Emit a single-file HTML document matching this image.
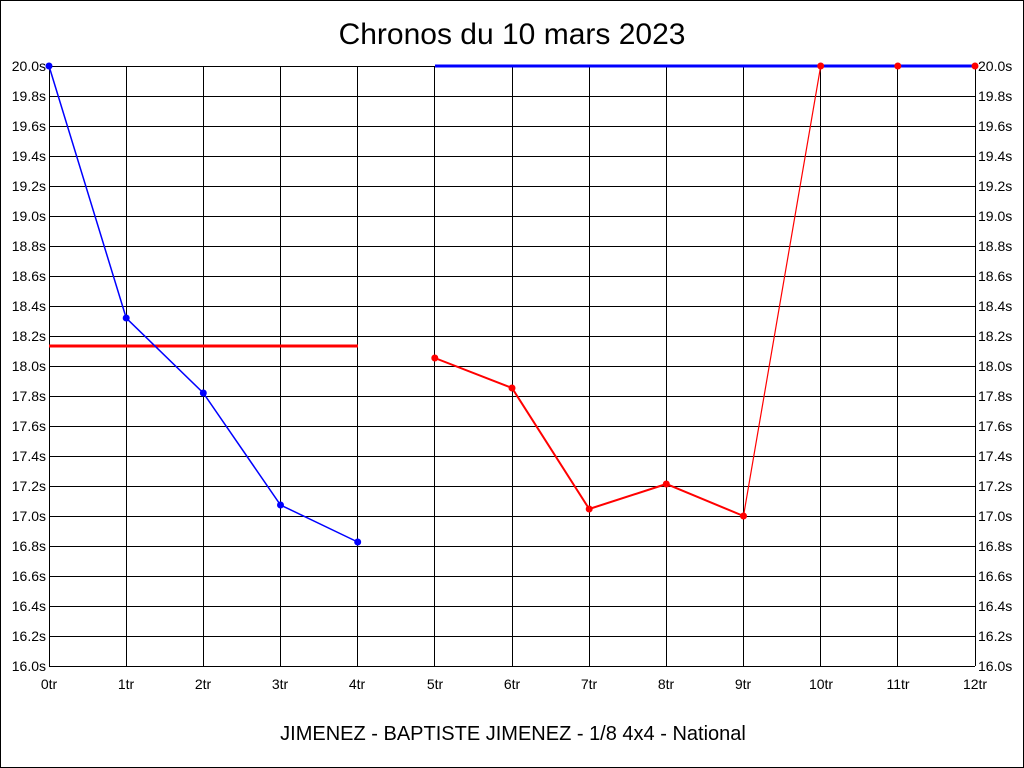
<!DOCTYPE html>
<html><head><meta charset="utf-8"><style>html,body{margin:0;padding:0;background:#fff}svg{display:block}</style></head>
<body>
<svg width="1024" height="768" viewBox="0 0 1024 768" xmlns="http://www.w3.org/2000/svg" font-family="Liberation Sans, sans-serif">
<rect x="0.5" y="0.5" width="1023" height="767" fill="#fff" stroke="#000"/>
<text x="512" y="44" font-size="30" text-anchor="middle">Chronos du 10 mars 2023</text>
<g stroke="#000" stroke-width="1" shape-rendering="crispEdges">
<path d="M49 66.5H975M49 96.5H975M49 126.5H975M49 156.5H975M49 186.5H975M49 216.5H975M49 246.5H975M49 276.5H975M49 306.5H975M49 336.5H975M49 366.5H975M49 396.5H975M49 426.5H975M49 456.5H975M49 486.5H975M49 516.5H975M49 546.5H975M49 576.5H975M49 606.5H975M49 636.5H975M49 666.5H975"/>
<path d="M49.5 66V666M126.5 66V666M203.5 66V666M280.5 66V666M357.5 66V666M434.5 66V666M512.5 66V666M589.5 66V666M666.5 66V666M743.5 66V666M820.5 66V666M897.5 66V666M975.5 66V666"/>
</g>
<g font-size="14" text-anchor="end">
<text x="46" y="71">20.0s</text><text x="46" y="101">19.8s</text><text x="46" y="131">19.6s</text><text x="46" y="161">19.4s</text><text x="46" y="191">19.2s</text><text x="46" y="221">19.0s</text><text x="46" y="251">18.8s</text><text x="46" y="281">18.6s</text><text x="46" y="311">18.4s</text><text x="46" y="341">18.2s</text><text x="46" y="371">18.0s</text><text x="46" y="401">17.8s</text><text x="46" y="431">17.6s</text><text x="46" y="461">17.4s</text><text x="46" y="491">17.2s</text><text x="46" y="521">17.0s</text><text x="46" y="551">16.8s</text><text x="46" y="581">16.6s</text><text x="46" y="611">16.4s</text><text x="46" y="641">16.2s</text><text x="46" y="671">16.0s</text>
</g>
<g font-size="14" text-anchor="start">
<text x="978" y="71">20.0s</text><text x="978" y="101">19.8s</text><text x="978" y="131">19.6s</text><text x="978" y="161">19.4s</text><text x="978" y="191">19.2s</text><text x="978" y="221">19.0s</text><text x="978" y="251">18.8s</text><text x="978" y="281">18.6s</text><text x="978" y="311">18.4s</text><text x="978" y="341">18.2s</text><text x="978" y="371">18.0s</text><text x="978" y="401">17.8s</text><text x="978" y="431">17.6s</text><text x="978" y="461">17.4s</text><text x="978" y="491">17.2s</text><text x="978" y="521">17.0s</text><text x="978" y="551">16.8s</text><text x="978" y="581">16.6s</text><text x="978" y="611">16.4s</text><text x="978" y="641">16.2s</text><text x="978" y="671">16.0s</text>
</g>
<g font-size="14" text-anchor="middle">
<text x="49" y="689">0tr</text><text x="126" y="689">1tr</text><text x="203" y="689">2tr</text><text x="280" y="689">3tr</text><text x="357" y="689">4tr</text><text x="435" y="689">5tr</text><text x="512" y="689">6tr</text><text x="589" y="689">7tr</text><text x="666" y="689">8tr</text><text x="743" y="689">9tr</text><text x="821" y="689">10tr</text><text x="898" y="689">11tr</text><text x="975" y="689">12tr</text>
</g>
<text x="513" y="740" font-size="20" text-anchor="middle">JIMENEZ - BAPTISTE JIMENEZ - 1/8 4x4 - National</text>
<line x1="49" y1="346" x2="358" y2="346" stroke="#f00" stroke-width="3"/>
<line x1="435" y1="66" x2="975" y2="66" stroke="#00f" stroke-width="3"/>
<polyline points="49,66 126.2,318 203.3,393 280.5,505 357.7,542" fill="none" stroke="#00f" stroke-width="1.5"/>
<g fill="#00f"><circle cx="49" cy="66" r="3.5"/><circle cx="126.2" cy="318" r="3.5"/><circle cx="203.3" cy="393" r="3.5"/><circle cx="280.5" cy="505" r="3.5"/><circle cx="357.7" cy="542" r="3.5"/></g>
<polyline points="434.8,358 512,388 589.2,509 666.3,484 743.5,516" fill="none" stroke="#f00" stroke-width="2"/>
<line x1="743.5" y1="516" x2="820.7" y2="66" stroke="#f00" stroke-width="1.2"/>
<g fill="#f00"><circle cx="434.8" cy="358" r="3.5"/><circle cx="512" cy="388" r="3.5"/><circle cx="589.2" cy="509" r="3.5"/><circle cx="666.3" cy="484" r="3.5"/><circle cx="743.5" cy="516" r="3.5"/><circle cx="820.7" cy="66" r="3.5"/><circle cx="897.8" cy="66" r="3.5"/><circle cx="975" cy="66" r="3.5"/></g>
</svg>
</body></html>
